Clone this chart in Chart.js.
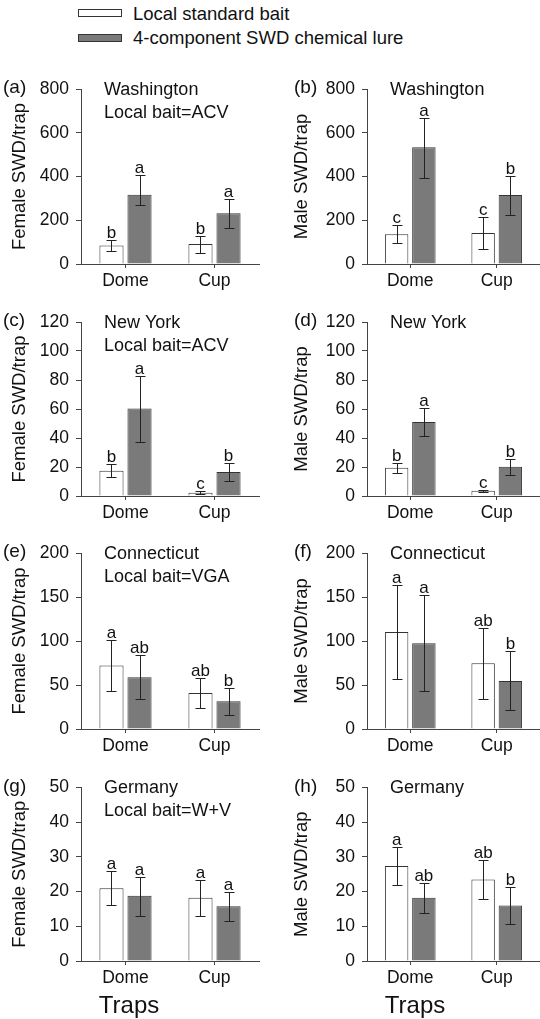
<!DOCTYPE html>
<html>
<head>
<meta charset="utf-8">
<script src="https://cdn.jsdelivr.net/npm/chart.js@4.4.1/dist/chart.umd.min.js"></script>
<style>
  body { margin: 0; background: #fff; width: 540px; height: 1019px; position: relative; overflow: hidden;
         font-family: "Liberation Sans", Arial, sans-serif; color: #111; }
  .panel { position: absolute; }
  .key { position: absolute; left: 78px; width: 42px; height: 6px; border: 1px solid #333; }
  .lab { position: absolute; left: 133px; font-size: 18.5px; line-height: 22px; white-space: nowrap; }
</style>
</head>
<body>
<div class="key" style="top:9px;background:#fff"></div>
<div class="lab" id="lab0" style="top:3px"></div>
<div class="key" style="top:34px;background:#7a7a7a"></div>
<div class="lab" id="lab1" style="top:27px"></div>
<div id="panels"></div>
<script>
// ---- data ----
const TRAPS = ['Dome', 'Cup'];
const SERIES = ['Local standard bait', '4-component SWD chemical lure'];
const TAGS = ['(a)', '(b)', '(c)', '(d)', '(e)', '(f)', '(g)', '(h)'];
const SITES = ['Washington', 'Washington', 'New York', 'New York', 'Connecticut', 'Connecticut', 'Germany', 'Germany'];
const BAITS = ['Local bait=ACV', '', 'Local bait=ACV', '', 'Local bait=VGA', '', 'Local bait=W+V', ''];
const Y_TITLES = ['Female SWD/trap', 'Male SWD/trap', 'Female SWD/trap', 'Male SWD/trap',
                  'Female SWD/trap', 'Male SWD/trap', 'Female SWD/trap', 'Male SWD/trap'];
const X_TITLE = 'Traps';
const Y_MAX = [800, 800, 120, 120, 200, 200, 50, 50];
const Y_STEP = [200, 200, 20, 20, 50, 50, 10, 10];

// each: [local bait (Dome, Cup), chemical lure (Dome, Cup)]
const MEAN_A = [[85, 91], [317, 232]];
const HI_A   = [[111, 130], [405, 297]];
const LO_A   = [[58, 50], [268, 163]];
const LET_A  = [['b', 'b'], ['a', 'a']];

const MEAN_B = [[136, 142], [534, 315]];
const HI_B   = [[177, 215], [667, 403]];
const LO_B   = [[96, 67], [392, 224]];
const LET_B  = [['c', 'c'], ['a', 'b']];

const MEAN_C = [[17.4, 2.3], [60.3, 16.5]];
const HI_C   = [[21.8, 3.2], [82.8, 22.9]];
const LO_C   = [[13.1, 1.4], [37.4, 10.3]];
const LET_C  = [['b', 'c'], ['a', 'b']];

const MEAN_D = [[19.4, 3.7], [51, 20.1]];
const HI_D   = [[22.9, 4.3], [61, 25.6]];
const LO_D   = [[16.2, 2.7], [41.6, 14.6]];
const LET_D  = [['b', 'c'], ['a', 'b']];

const MEAN_E = [[72.3, 40.9], [58.7, 31.4]];
const HI_E   = [[101.5, 58], [84.5, 46.6]];
const LO_E   = [[42.8, 24.2], [34, 16.3]];
const LET_E  = [['a', 'ab'], ['ab', 'b']];

const MEAN_F = [[110.2, 74.8], [97.5, 54.6]];
const HI_F   = [[163.3, 115], [151.8, 88.4]];
const LO_F   = [[56.9, 33.8], [42.9, 21.3]];
const LET_F  = [['a', 'ab'], ['a', 'b']];

const MEAN_G = [[21, 18.2], [18.8, 15.8]];
const HI_G   = [[25.9, 23.3], [24.2, 20]];
const LO_G   = [[16.1, 13], [13.1, 11.5]];
const LET_G  = [['a', 'a'], ['a', 'a']];

const MEAN_H = [[27.4, 23.5], [18.2, 16]];
const HI_H   = [[32.9, 29.2], [22.6, 21.2]];
const LO_H   = [[22, 17.8], [13.8, 10.6]];
const LET_H  = [['a', 'ab'], ['ab', 'b']];

const MEANS = [MEAN_A, MEAN_B, MEAN_C, MEAN_D, MEAN_E, MEAN_F, MEAN_G, MEAN_H];
const HIS = [HI_A, HI_B, HI_C, HI_D, HI_E, HI_F, HI_G, HI_H];
const LOS = [LO_A, LO_B, LO_C, LO_D, LO_E, LO_F, LO_G, LO_H];
const LETS = [LET_A, LET_B, LET_C, LET_D, LET_E, LET_F, LET_G, LET_H];

// ---- layout (page pixels) ----
const FONT = '"Liberation Sans", Arial, sans-serif';
const ROW_TOP = [60, 300, 530, 770];
const ROW_H = [240, 230, 240, 249];
const AXIS_TOP = [89, 322, 553, 786];
const AXIS_ZERO = [264, 496, 729, 961];
const FILLS = ['#ffffff', '#7a7a7a'];

document.getElementById('lab0').textContent = SERIES[0];
document.getElementById('lab1').textContent = SERIES[1];

Chart.defaults.font.family = FONT;
Chart.defaults.color = '#111';

// error bars + significance letters
const errorBars = {
    id: 'errorBars',
    afterDatasetsDraw(chart) {
        const { ctx, scales: { y } } = chart;
        chart.data.datasets.forEach((ds, d) => {
            chart.getDatasetMeta(d).data.forEach((bar, k) => {
                const x = Math.round(bar.x) + 0.5;
                const yHi = Math.round(y.getPixelForValue(ds.hi[k])) + 0.5;
                const yLo = Math.round(y.getPixelForValue(ds.lo[k])) + 0.5;
                ctx.save();
                ctx.strokeStyle = '#222';
                ctx.lineWidth = 1;
                ctx.beginPath();
                ctx.moveTo(x, yHi); ctx.lineTo(x, yLo);
                ctx.moveTo(x - 5, yHi); ctx.lineTo(x + 5, yHi);
                ctx.moveTo(x - 5, yLo); ctx.lineTo(x + 5, yLo);
                ctx.stroke();
                ctx.fillStyle = '#111';
                ctx.font = '17px ' + FONT;
                ctx.textAlign = 'center';
                ctx.textBaseline = 'alphabetic';
                ctx.fillText(ds.letters[k], bar.x, yHi - 3);
                ctx.restore();
            });
        });
    }
};

// panel tag, site text and bottom axis title
const panelText = {
    id: 'panelText',
    afterDraw(chart, args, opts) {
        const { ctx, chartArea } = chart;
        ctx.save();
        ctx.fillStyle = '#111';
        ctx.textBaseline = 'middle';
        ctx.textAlign = 'left';
        ctx.font = '19px ' + FONT;
        ctx.fillText(opts.tag, opts.tagX, chartArea.top - 1);
        ctx.font = '18px ' + FONT;
        ctx.fillText(opts.site, chartArea.left + 23, chartArea.top + 1);
        if (opts.bait) ctx.fillText(opts.bait, chartArea.left + 23, chartArea.top + 24);
        if (opts.xTitle) {
            ctx.textAlign = 'center';
            ctx.font = '24px ' + FONT;
            ctx.fillText(opts.xTitle, chartArea.left + 48, chartArea.bottom + 45);
        }
        ctx.restore();
    }
};

const holder = document.getElementById('panels');

for (let i = 0; i < 8; i++) {
    const row = i >> 1, col = i & 1;
    const w = 270, h = ROW_H[row];
    const div = document.createElement('div');
    div.className = 'panel';
    div.style.left = (col * 270) + 'px';
    div.style.top = ROW_TOP[row] + 'px';
    div.style.width = w + 'px';
    div.style.height = h + 'px';
    const canvas = document.createElement('canvas');
    canvas.width = w; canvas.height = h;
    div.appendChild(canvas);
    holder.appendChild(div);

    const yW = col ? 97 : 81;
    const xH = ROW_TOP[row] + h - AXIS_ZERO[row];

    new Chart(canvas, {
        type: 'bar',
        data: {
            labels: TRAPS,
            datasets: SERIES.map((name, s) => ({
                label: name,
                data: MEANS[i][s],
                hi: HIS[i][s],
                lo: LOS[i][s],
                letters: LETS[i][s],
                backgroundColor: FILLS[s],
                borderColor: '#333',
                borderWidth: 1,
                categoryPercentage: 0.63,
                barPercentage: 0.86
            }))
        },
        options: {
            responsive: false,
            animation: false,
            events: [],
            layout: { padding: { top: AXIS_TOP[row] - ROW_TOP[row], right: col ? 0 : 11, left: 0, bottom: 0 } },
            plugins: {
                legend: { display: false },
                tooltip: { enabled: false },
                panelText: { tag: TAGS[i], tagX: col ? 24 : 3, site: SITES[i], bait: BAITS[i], xTitle: row === 3 ? X_TITLE : '' }
            },
            scales: {
                x: {
                    grid: { offset: false, drawOnChartArea: false, tickLength: 4, color: '#444' },
                    border: { color: '#444', width: 1 },
                    ticks: { font: { size: 17.5 }, color: '#111', padding: 3 },
                    afterFit: s => { s.height = xH; }
                },
                y: {
                    min: 0,
                    max: Y_MAX[i],
                    ticks: { stepSize: Y_STEP[i], font: { size: 17.5 }, color: '#111', padding: 7 },
                    grid: { drawOnChartArea: false, tickLength: 5, color: '#444' },
                    border: { color: '#444', width: 1 },
                    title: { display: true, text: Y_TITLES[i], font: { size: 18.5 }, color: '#111', padding: { top: col ? 21 : 9, bottom: 0 } },
                    afterFit: s => { s.width = yW; }
                }
            }
        },
        plugins: [errorBars, panelText]
    });
}
</script>
</body>
</html>
